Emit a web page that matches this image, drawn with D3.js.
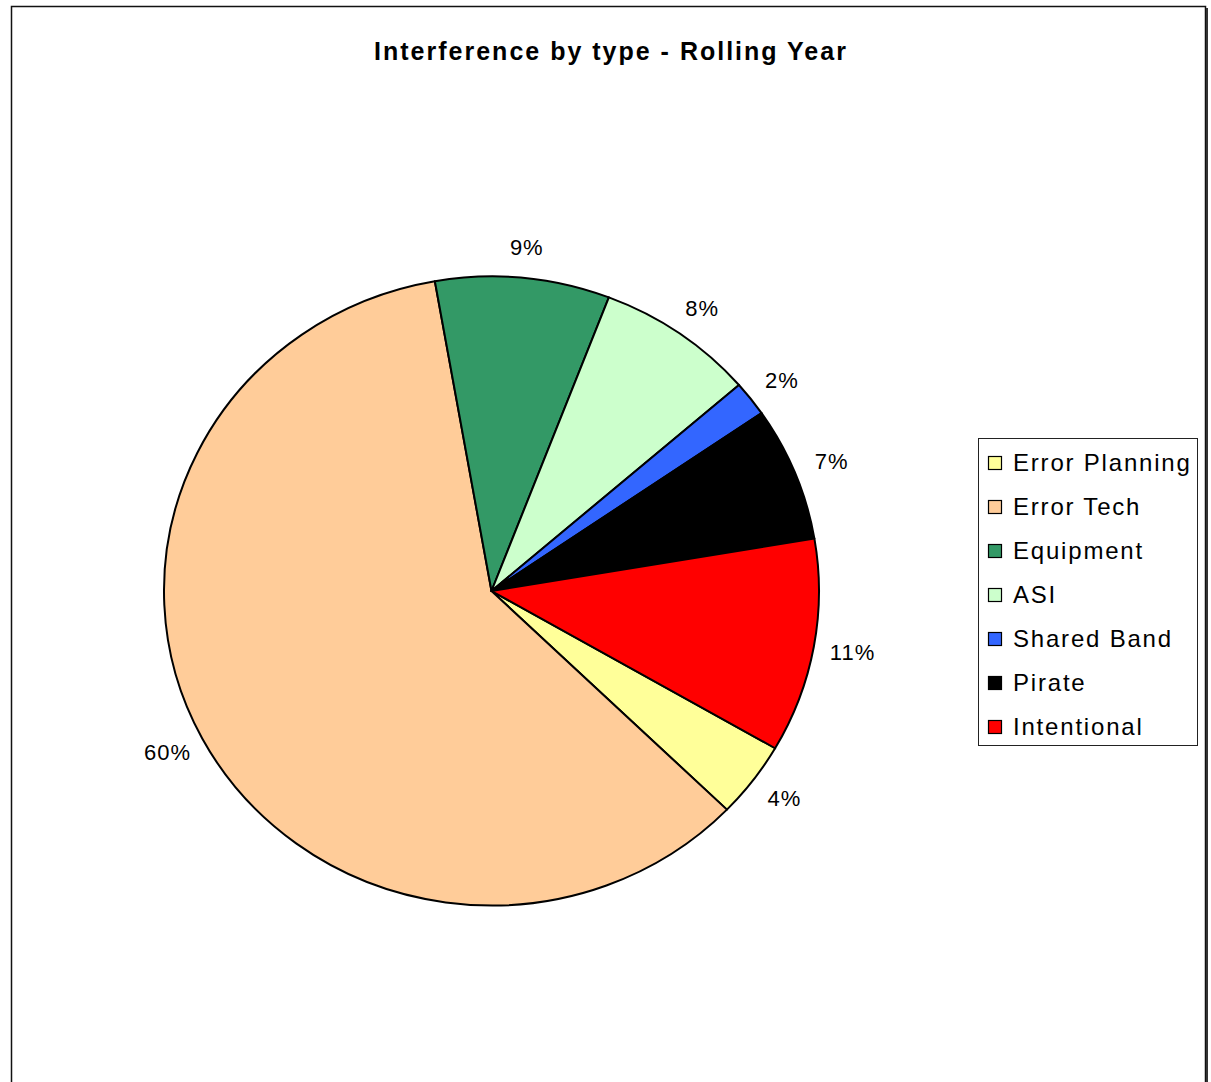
<!DOCTYPE html>
<html>
<head>
<meta charset="utf-8">
<script src="https://cdn.jsdelivr.net/npm/d3@7"></script>
<style>
  html, body { margin: 0; padding: 0; background: #fff; }
  svg { display: block; }
  text { font-family: "Liberation Sans", Arial, sans-serif; }
</style>
</head>
<body>
<svg id="chart" width="1211" height="1082"></svg>
<script>
// ---- data ----
const title = "Interference by type - Rolling Year";
const categories = ["Error Planning", "Error Tech", "Equipment", "ASI", "Shared Band", "Pirate", "Intentional"];
const values = [3.9, 60.0, 8.6, 7.8, 1.8, 6.9, 11.0];
const colors = ["#FFFF99", "#FFCC99", "#339966", "#CCFFCC", "#3366FF", "#000000", "#FF0000"];

// ---- layout ----
const W = 1211, H = 1082;
const cx = 491.5, cy = 591;
const rx = 327.5, ry = 314.5;
const yScale = ry / rx;
const startDeg = 120;

const svg = d3.select("#chart");

// frame
svg.append("rect")
  .attr("x", 11.5).attr("y", 6.5).attr("width", 1194).attr("height", 1100)
  .attr("fill", "#fff").attr("stroke", "#111").attr("stroke-width", 1.5);
svg.append("line")
  .attr("x1", 1207).attr("x2", 1207).attr("y1", 8).attr("y2", H)
  .attr("stroke", "#333").attr("stroke-width", 2);

// title
svg.append("text")
  .attr("x", 611).attr("y", 60)
  .attr("text-anchor", "middle")
  .attr("font-size", 25).attr("font-weight", "bold")
  .attr("letter-spacing", 2.0)
  .text(title);

// pie
const pie = d3.pie().sort(null).value(d => d)
  .startAngle(startDeg * Math.PI / 180)
  .endAngle(startDeg * Math.PI / 180 + 2 * Math.PI);
const arcs = pie(values);
const arc = d3.arc().innerRadius(0).outerRadius(rx);

const g = svg.append("g")
  .attr("transform", `translate(${cx},${cy}) scale(1,${yScale})`);

g.selectAll("path")
  .data(arcs)
  .join("path")
  .attr("d", arc)
  .attr("fill", (d, i) => colors[i])
  .attr("stroke", "#000")
  .attr("stroke-width", 2)
  .attr("stroke-linejoin", "round")
  .attr("vector-effect", "non-scaling-stroke");

// labels
const total = d3.sum(values);
const labelR = rx * 1.12;
const labelYScale = 345 / labelR;
const labelArc = d3.arc().innerRadius(labelR).outerRadius(labelR);
svg.append("g").selectAll("text")
  .data(arcs)
  .join("text")
  .attr("x", d => cx + labelArc.centroid(d)[0])
  .attr("y", d => cy + labelArc.centroid(d)[1] * labelYScale)
  .attr("dy", "0.35em")
  .attr("text-anchor", "middle")
  .attr("font-size", 22)
  .attr("letter-spacing", 1)
  .text(d => Math.round(d.value / total * 100) + "%");

// legend
const lg = svg.append("g");
lg.append("rect")
  .attr("x", 978.5).attr("y", 438.5).attr("width", 219).attr("height", 307)
  .attr("fill", "#fff").attr("stroke", "#222").attr("stroke-width", 1);
const item = lg.selectAll("g.item")
  .data(categories)
  .join("g")
  .attr("class", "item")
  .attr("transform", (d, i) => `translate(0,${463 + i * 44})`);
item.append("rect")
  .attr("x", 988.5).attr("y", -6.5).attr("width", 13).attr("height", 13)
  .attr("fill", (d, i) => colors[i])
  .attr("stroke", "#000").attr("stroke-width", 1.2);
item.append("text")
  .attr("x", 1013).attr("y", 0)
  .attr("dy", "0.35em")
  .attr("font-size", 24)
  .attr("letter-spacing", 1.8)
  .text(d => d);
</script>
</body>
</html>
